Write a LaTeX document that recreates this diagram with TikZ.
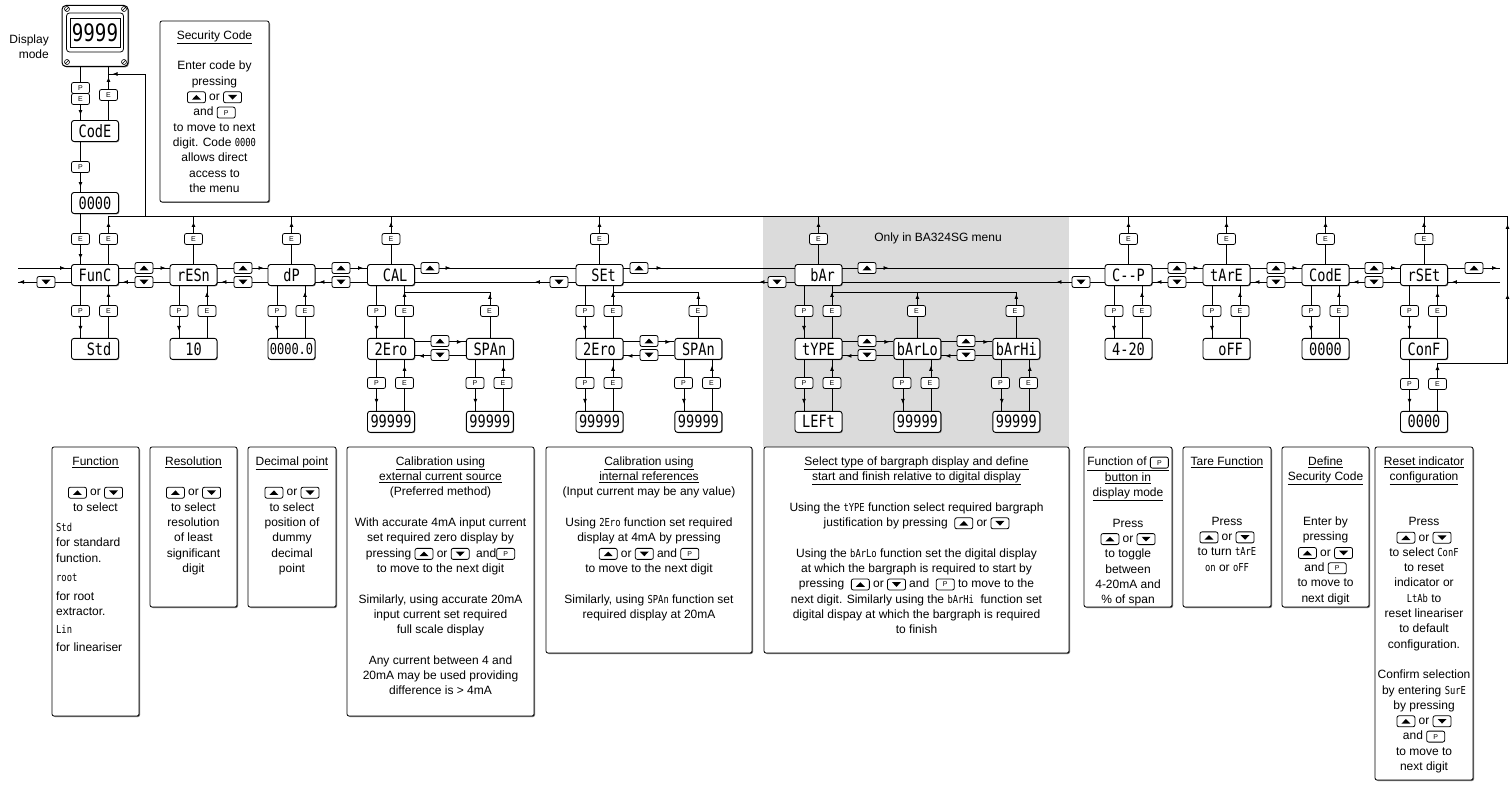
\documentclass[tikz,border=0pt]{standalone}
\usepackage{fontspec}
\setmainfont{Liberation Sans}
\newfontfamily\lcdfont[FakeStretch=0.8]{DejaVu Sans Mono}
\usepackage{tikz}
\usetikzlibrary{arrows.meta, positioning, decorations.markings, shadows}

\tikzset{
    key/.style={draw, rounded corners=2pt, line width=0.8pt, fill=white,
        minimum width=18pt, minimum height=11pt, inner sep=0pt,
        font=\fontsize{7}{7}\selectfont},
    upkey/.style={key, path picture={\fill[black, sharp corners] ([xshift=-4.5pt,yshift=-2.3pt]path picture bounding box.center)
        -- ++(9pt,0pt) -- ++(-4.5pt,4.6pt) -- cycle;}},
    downkey/.style={key, path picture={\fill[black, sharp corners] ([xshift=-4.5pt,yshift=2.3pt]path picture bounding box.center)
        -- ++(9pt,0pt) -- ++(-4.5pt,-4.6pt) -- cycle;}},
}
\newcommand{\kup}{\raisebox{-2.6pt}{\tikz\node[upkey] (ku) {};}}
\newcommand{\kdn}{\raisebox{-2.6pt}{\tikz\node[downkey] (kd) {};}}
\newcommand{\kp}{\raisebox{-2.6pt}{\tikz\node[key] (kp) {P};}}
\newcommand{\seg}[1]{{\lcdfont\fontsize{11}{11}\selectfont #1}}

\begin{document}
\begin{tikzpicture}[
    x=1pt, y=-1pt,
    lcd/.style={draw, rounded corners=2.5pt, line width=0.9pt, fill=white, minimum width=47pt,
        minimum height=21pt, inner sep=0pt, font=\lcdfont\fontsize{17}{17}\selectfont,
        drop shadow={shadow xshift=0.8pt, shadow yshift=-0.8pt, fill=black!55, opacity=1}},
    info/.style={draw, rounded corners=2pt, line width=0.8pt, fill=white,
        drop shadow={shadow xshift=1pt, shadow yshift=-1pt, fill=black!55, opacity=1}},
    notetext/.style={align=center, inner sep=0pt, font=\fontsize{12}{15.3}\selectfont},
    flow/.style={line width=0.8pt},
    flowtip/.style={postaction=decorate, decoration={markings,
        mark=at position #1 with {\arrow{Latex[length=5pt, width=4pt]}}}},
    flowtip/.default=-5pt,
]
\useasboundingbox (0,0) rectangle (1512,799);

% bargraph group
\fill[black!14] (763,217) rectangle (1069,447);
\node[notetext] (bartitle) at (938,238) {Only in BA324SG menu};

% display mode and security code
\node[draw, rounded corners=4pt, line width=1pt, fill=white, minimum width=66pt, minimum height=61pt,
    drop shadow={shadow xshift=1pt, shadow yshift=-1pt, fill=black!55, opacity=1}] (disp) at (95,36) {};
\node[draw, rounded corners=3pt, line width=0.8pt, minimum width=57pt, minimum height=39pt] (bezel) at (95,32.5) {};
\node[draw, line width=0.8pt, minimum width=50pt, minimum height=29pt, inner sep=0pt,
    font=\lcdfont\fontsize{24}{24}\selectfont] (window) at (95,32.5) {9999};
\draw[line width=0.6pt] (67,9) circle (2.5pt) (65.4,10.6) -- (68.6,7.4);
\draw[line width=0.6pt] (124,9) circle (2.5pt) (122.4,10.6) -- (125.6,7.4);
\draw[line width=0.6pt] (67,62) circle (2.5pt) (65.4,63.6) -- (68.6,60.4);
\draw[line width=0.6pt] (124,62) circle (2.5pt) (122.4,63.6) -- (125.6,60.4);
\node[notetext, align=right, anchor=east] (dmode) at (49,47) {Display\\mode};

\node[lcd] (pincode) at (95,131) {CodE};
\node[lcd] (pinval) at (95,203) {0000};
\node[info, minimum width=109pt, minimum height=181pt] (secbox) at (214.5,111.5) {};
\node[notetext, anchor=north] (sectext) at (214.5,30.5) {\underline{Security Code}\\[15.3pt]
    Enter code by\\ pressing\\ \kup{} or \kdn\\ and \kp\\ to move to next\\
    digit. Code \seg{0000}\\ allows direct\\ access to\\ the menu};

% main menu
\node[lcd] (func) at (95,275) {FunC};
\node[lcd] (resn) at (193.5,275) {rESn};
\node[lcd] (dp) at (291.5,275) {dP};
\node[lcd] (cal) at (391,275) {\phantom{0}CAL};
\node[lcd] (set) at (599.5,275) {\phantom{0}SEt};
\node[lcd] (bar) at (818.5,275) {\phantom{0}bAr};
\node[lcd] (cp) at (1128.5,275) {C{-}{-}P};
\node[lcd] (tare) at (1226.5,275) {tArE};
\node[lcd] (code) at (1325.5,275) {CodE};
\node[lcd] (rset) at (1424,275) {rSEt};

% sub menus
\node[lcd, below=52pt of func] (std) {\phantom{0}Std};
\node[lcd, below=52pt of resn] (res10) {10};
\node[lcd, below=52pt of dp, font=\lcdfont\fontsize{15}{15}\selectfont] (dpval) {0000.0};
\node[lcd, below=52pt of cal] (calzero) {2Ero};
\node[lcd, right=51pt of calzero] (calspan) {SPAn};
\node[lcd, below=52pt of set] (setzero) {2Ero};
\node[lcd, right=51pt of setzero] (setspan) {SPAn};
\node[lcd, below=52pt of bar] (typesel) {tYPE};
\node[lcd, right=51pt of typesel] (barlo) {bArLo};
\node[lcd, right=51pt of barlo] (barhi) {bArHi};
\node[lcd, below=52pt of cp] (cpval) {4-20};
\node[lcd, below=52pt of tare] (tareval) {\phantom{0}oFF};
\node[lcd, below=52pt of code] (codeval) {0000};
\node[lcd, below=52pt of rset] (conf) {ConF};

\node[lcd, below=51pt of calzero] (calzval) {99999};
\node[lcd, below=51pt of calspan] (calsval) {99999};
\node[lcd, below=51pt of setzero] (setzval) {99999};
\node[lcd, below=51pt of setspan] (setsval) {99999};
\node[lcd, below=51pt of typesel] (leftval) {LEFt};
\node[lcd, below=51pt of barlo] (lowval) {99999};
\node[lcd, below=51pt of barhi] (hival) {99999};
\node[lcd, below=51pt of conf] (confval) {0000};

% explanations
\node[info, minimum width=87pt, minimum height=269pt] (ifunc) at (95.5,581.5) {};
\node[info, minimum width=87pt, minimum height=160pt] (ires) at (193.5,527) {};
\node[info, minimum width=88pt, minimum height=160pt] (idp) at (292,527) {};
\node[info, minimum width=187pt, minimum height=269pt] (ical) at (440.5,581.5) {};
\node[info, minimum width=206pt, minimum height=206pt] (iset) at (649,550) {};
\node[info, minimum width=305pt, minimum height=206pt] (ibar) at (916.5,550) {};
\node[info, minimum width=88pt, minimum height=160pt] (icp) at (1128,527) {};
\node[info, minimum width=88pt, minimum height=160pt] (itare) at (1227,527) {};
\node[info, minimum width=87pt, minimum height=160pt] (icode) at (1325.5,527) {};
\node[info, minimum width=98pt, minimum height=333pt] (irset) at (1424,613.5) {};

\node[notetext, anchor=north] (tfunc) at (95.5,456.5) {\underline{Function}\\[15.3pt]
    \kup{} or \kdn\\ to select};
\node[notetext, align=left, anchor=north west] (tfuncb) at (56,523) {\seg{Std}\\ for standard\\
    function.\\[4.5pt] \seg{root}\\[3pt] for root\\ extractor.\\[3pt] \seg{Lin}\\[2.5pt] for lineariser};
\node[notetext, anchor=north] (tres) at (193.5,456.5) {\underline{Resolution}\\[15.3pt]
    \kup{} or \kdn\\ to select\\ resolution\\ of least\\ significant\\ digit};
\node[notetext, anchor=north] (tdp) at (292,456.5) {\underline{Decimal point}\\[15.3pt]
    \kup{} or \kdn\\ to select\\ position of\\ dummy\\ decimal\\ point};
\node[notetext, anchor=north] (tcal) at (440.5,456.5) {\underline{Calibration using}\\
    \underline{external current source}\\ (Preferred method)\\[15.3pt]
    With accurate 4mA input current\\ set required zero display by\\
    pressing \kup{} or \kdn{} \ and\kp\\ to move to the next digit\\[15.3pt]
    Similarly, using accurate 20mA\\ input current set required\\ full scale display\\[15.3pt]
    Any current between 4 and\\ 20mA may be used providing\\ difference is > 4mA};
\node[notetext, anchor=north] (tset) at (649,456.5) {\underline{Calibration using}\\
    \underline{internal references}\\ (Input current may be any value)\\[15.3pt]
    Using \seg{2Ero} function set required\\ display at 4mA by pressing\\
    \kup{} or \kdn{} and \kp\\ to move to the next digit\\[15.3pt]
    Similarly, using \seg{SPAn} function set\\ required display at 20mA};
\node[notetext, anchor=north] (tbar) at (916.5,456.5) {\underline{Select type of bargraph display and define}\\
    \underline{start and finish relative to digital display}\\[15.3pt]
    Using the \seg{tYPE} function select required bargraph\\
    justification by pressing \ \kup{} or \kdn\\[15.3pt]
    Using the \seg{bArLo} function set the digital display\\
    at which the bargraph is required to start by\\
    pressing \ \kup{} or \kdn{} and \ \kp{} to move to the\\
    next digit. Similarly using the \seg{bArHi} \ function set\\
    digital dispay at which the bargraph is required\\ to finish};
\node[notetext, anchor=north] (tcp) at (1128,456.5) {\underline{Function of \kp}\\
    \underline{button in}\\ \underline{display mode}\\[15.3pt]
    Press\\ \kup{} or \kdn\\ to toggle\\ between\\ 4-20mA and\\ \% of span};
\node[notetext, anchor=north] (ttare) at (1227,456.5) {\underline{Tare Function}\\[44.7pt]
    Press\\ \kup{} or \kdn\\ to turn \seg{tArE}\\ \seg{on} or \seg{oFF}};
\node[notetext, anchor=north] (tcode) at (1325.5,456.5) {\underline{Define}\\
    \underline{Security Code}\\[29.7pt]
    Enter by\\ pressing\\ \kup{} or \kdn\\ and \kp\\ to move to\\ next digit};
\node[notetext, anchor=north] (trset) at (1424,456.5) {\underline{Reset indicator}\\
    \underline{configuration}\\[29.7pt]
    Press\\ \kup{} or \kdn\\ to select \seg{ConF}\\ to reset\\ indicator or\\
    \seg{LtAb} to\\ reset lineariser\\ to default\\ configuration.\\[15.3pt]
    Confirm selection\\ by entering \seg{SurE}\\ by pressing\\ \kup{} or \kdn\\
    and \kp\\ to move to\\ next digit};

% return bus to display mode
\coordinate (busL) at (108.5,216);
\coordinate (busR) at (1507.5,216);
\coordinate (retA) at (1507.5,363);
\coordinate (retC) at (145,216);
\coordinate (retD) at (145,74);
\draw[flow] (busL) -- (busR);
\draw[flow, postaction=decorate, decoration={markings,
    mark=at position 69pt with {\arrow{Latex[length=5pt, width=4pt]}},
    mark=at position 139pt with {\arrow{Latex[length=5pt, width=4pt]}}}] (retA) -- (busR);
\draw[flow] (retC) -- (retD);
\draw[flow, flowtip=-4pt] (retD) -- ([xshift=13.5pt]disp.south |- retD);
\draw[flow, flowtip=-2pt] ([xshift=13.5pt]confval.north) -- ([xshift=13.5pt]confval.north |- retA);
\draw[flow] ([xshift=13.5pt]confval.north |- retA) -- (retA);

\draw[flow, flowtip] ([xshift=-14.5pt]disp.south) -- ([xshift=-14.5pt]pincode.north);
\draw[flow, flowtip=-10pt] ([xshift=13.5pt]pincode.north) -- ([xshift=13.5pt]disp.south);
\draw[flow, flowtip] ([xshift=-14.5pt]pincode.south) -- ([xshift=-14.5pt]pinval.north);
\draw[flow, flowtip] ([xshift=-14.5pt]pinval.south) -- ([xshift=-14.5pt]func.north);
\draw[flow, flowtip=-6pt] ([xshift=13.5pt]func.north) -- (busL);
\draw[flow, flowtip=-6pt] (resn.north) -- (resn.north |- busL);
\draw[flow, flowtip=-6pt] (dp.north) -- (dp.north |- busL);
\draw[flow, flowtip=-6pt] (cal.north) -- (cal.north |- busL);
\draw[flow, flowtip=-6pt] (set.north) -- (set.north |- busL);
\draw[flow, flowtip=-6pt] (bar.north) -- (bar.north |- busL);
\draw[flow, flowtip=-6pt] (cp.north) -- (cp.north |- busL);
\draw[flow, flowtip=-6pt] (tare.north) -- (tare.north |- busL);
\draw[flow, flowtip=-6pt] (code.north) -- (code.north |- busL);
\draw[flow, flowtip=-6pt] (rset.north) -- (rset.north |- busL);

% scrolling through the main menu
\coordinate (inL) at (18,268);
\coordinate (outL) at (18,282);
\coordinate (outR) at (1500,268);
\coordinate (inR) at (1500,282);
\draw[flow, flowtip=-6pt] (inL) -- ([yshift=7pt]func.west);
\draw[flow, flowtip=-1pt] ([yshift=-7pt]func.west) -- (outL);
\draw[flow, flowtip=-4pt] ([yshift=7pt]func.east) -- ([yshift=7pt]resn.west);
\draw[flow, flowtip=-4pt] ([yshift=-7pt]resn.west) -- ([yshift=-7pt]func.east);
\draw[flow, flowtip=-4pt] ([yshift=7pt]resn.east) -- ([yshift=7pt]dp.west);
\draw[flow, flowtip=-4pt] ([yshift=-7pt]dp.west) -- ([yshift=-7pt]resn.east);
\draw[flow, flowtip=-4pt] ([yshift=7pt]dp.east) -- ([yshift=7pt]cal.west);
\draw[flow, flowtip=-4pt] ([yshift=-7pt]cal.west) -- ([yshift=-7pt]dp.east);
\draw[flow, flowtip=-125pt] ([yshift=7pt]cal.east) -- ([yshift=7pt]set.west);
\draw[flow, flowtip=-120pt] ([yshift=-7pt]set.west) -- ([yshift=-7pt]cal.east);
\draw[flow, flowtip=-133pt] ([yshift=7pt]set.east) -- ([yshift=7pt]bar.west);
\draw[flow, flowtip=-136pt] ([yshift=-7pt]bar.west) -- ([yshift=-7pt]set.east);
\draw[flow, flowtip=-216pt] ([yshift=7pt]bar.east) -- ([yshift=7pt]cp.west);
\draw[flow, flowtip=-214pt] ([yshift=-7pt]cp.west) -- ([yshift=-7pt]bar.east);
\draw[flow, flowtip=-4pt] ([yshift=7pt]cp.east) -- ([yshift=7pt]tare.west);
\draw[flow, flowtip=-4pt] ([yshift=-7pt]tare.west) -- ([yshift=-7pt]cp.east);
\draw[flow, flowtip=-4pt] ([yshift=7pt]tare.east) -- ([yshift=7pt]code.west);
\draw[flow, flowtip=-4pt] ([yshift=-7pt]code.west) -- ([yshift=-7pt]tare.east);
\draw[flow, flowtip=-4pt] ([yshift=7pt]code.east) -- ([yshift=7pt]rset.west);
\draw[flow, flowtip=-4pt] ([yshift=-7pt]rset.west) -- ([yshift=-7pt]code.east);
\draw[flow, flowtip=-3pt] ([yshift=7pt]rset.east) -- (outR);
\draw[flow, flowtip=-4pt] (inR) -- ([yshift=-7pt]rset.east);

% into and out of the sub menus
\draw[flow, flowtip=-7pt] ([xshift=-14.5pt]func.south) -- ([xshift=-14.5pt]std.north);
\draw[flow, flowtip=-6pt] ([xshift=13.5pt]std.north) -- ([xshift=13.5pt]func.south);
\draw[flow, flowtip=-7pt] ([xshift=-14.5pt]resn.south) -- ([xshift=-14.5pt]res10.north);
\draw[flow, flowtip=-6pt] ([xshift=13.5pt]res10.north) -- ([xshift=13.5pt]resn.south);
\draw[flow, flowtip=-7pt] ([xshift=-14.5pt]dp.south) -- ([xshift=-14.5pt]dpval.north);
\draw[flow, flowtip=-6pt] ([xshift=13.5pt]dpval.north) -- ([xshift=13.5pt]dp.south);
\draw[flow, flowtip=-7pt] ([xshift=-14.5pt]cal.south) -- ([xshift=-14.5pt]calzero.north);
\draw[flow, flowtip=-6pt] ([xshift=13.5pt]calzero.north) -- ([xshift=13.5pt]cal.south);
\draw[flow, flowtip=-7pt] ([xshift=-14.5pt]set.south) -- ([xshift=-14.5pt]setzero.north);
\draw[flow, flowtip=-6pt] ([xshift=13.5pt]setzero.north) -- ([xshift=13.5pt]set.south);
\draw[flow, flowtip=-7pt] ([xshift=-14.5pt]bar.south) -- ([xshift=-14.5pt]typesel.north);
\draw[flow, flowtip=-6pt] ([xshift=13.5pt]typesel.north) -- ([xshift=13.5pt]bar.south);
\draw[flow, flowtip=-7pt] ([xshift=-14.5pt]cp.south) -- ([xshift=-14.5pt]cpval.north);
\draw[flow, flowtip=-6pt] ([xshift=13.5pt]cpval.north) -- ([xshift=13.5pt]cp.south);
\draw[flow, flowtip=-7pt] ([xshift=-14.5pt]tare.south) -- ([xshift=-14.5pt]tareval.north);
\draw[flow, flowtip=-6pt] ([xshift=13.5pt]tareval.north) -- ([xshift=13.5pt]tare.south);
\draw[flow, flowtip=-7pt] ([xshift=-14.5pt]code.south) -- ([xshift=-14.5pt]codeval.north);
\draw[flow, flowtip=-6pt] ([xshift=13.5pt]codeval.north) -- ([xshift=13.5pt]code.south);
\draw[flow, flowtip=-7pt] ([xshift=-14.5pt]rset.south) -- ([xshift=-14.5pt]conf.north);
\draw[flow, flowtip=-6pt] ([xshift=13.5pt]conf.north) -- ([xshift=13.5pt]rset.south);

\coordinate (calj) at (404.5,292);
\coordinate (setj) at (613,292);
\coordinate (barj) at (832,292);
\draw[flow, flowtip=-2pt] (calspan.north) -- (calspan.north |- calj);
\draw[flow] (calspan.north |- calj) -- (calj);
\draw[flow, flowtip=-2pt] (setspan.north) -- (setspan.north |- setj);
\draw[flow] (setspan.north |- setj) -- (setj);
\draw[flow, flowtip=-2pt] (barlo.north) -- (barlo.north |- barj);
\draw[flow, flowtip=-2pt] (barhi.north) -- (barhi.north |- barj);
\draw[flow] (barhi.north |- barj) -- (barj);

\draw[flow, flowtip=-4pt] ([yshift=7pt]calzero.east) -- ([yshift=7pt]calspan.west);
\draw[flow, flowtip=-4pt] ([yshift=-7pt]calspan.west) -- ([yshift=-7pt]calzero.east);
\draw[flow, flowtip=-4pt] ([yshift=7pt]setzero.east) -- ([yshift=7pt]setspan.west);
\draw[flow, flowtip=-4pt] ([yshift=-7pt]setspan.west) -- ([yshift=-7pt]setzero.east);
\draw[flow, flowtip=-4pt] ([yshift=7pt]typesel.east) -- ([yshift=7pt]barlo.west);
\draw[flow, flowtip=-4pt] ([yshift=-7pt]barlo.west) -- ([yshift=-7pt]typesel.east);
\draw[flow, flowtip=-4pt] ([yshift=7pt]barlo.east) -- ([yshift=7pt]barhi.west);
\draw[flow, flowtip=-4pt] ([yshift=-7pt]barhi.west) -- ([yshift=-7pt]barlo.east);

\draw[flow, flowtip=-7pt] ([xshift=-14.5pt]calzero.south) -- ([xshift=-14.5pt]calzval.north);
\draw[flow, flowtip=-6pt] ([xshift=13.5pt]calzval.north) -- ([xshift=13.5pt]calzero.south);
\draw[flow, flowtip=-7pt] ([xshift=-14.5pt]calspan.south) -- ([xshift=-14.5pt]calsval.north);
\draw[flow, flowtip=-6pt] ([xshift=13.5pt]calsval.north) -- ([xshift=13.5pt]calspan.south);
\draw[flow, flowtip=-7pt] ([xshift=-14.5pt]setzero.south) -- ([xshift=-14.5pt]setzval.north);
\draw[flow, flowtip=-6pt] ([xshift=13.5pt]setzval.north) -- ([xshift=13.5pt]setzero.south);
\draw[flow, flowtip=-7pt] ([xshift=-14.5pt]setspan.south) -- ([xshift=-14.5pt]setsval.north);
\draw[flow, flowtip=-6pt] ([xshift=13.5pt]setsval.north) -- ([xshift=13.5pt]setspan.south);
\draw[flow, flowtip=-7pt] ([xshift=-14.5pt]typesel.south) -- ([xshift=-14.5pt]leftval.north);
\draw[flow, flowtip=-6pt] ([xshift=13.5pt]leftval.north) -- ([xshift=13.5pt]typesel.south);
\draw[flow, flowtip=-7pt] ([xshift=-14.5pt]barlo.south) -- ([xshift=-14.5pt]lowval.north);
\draw[flow, flowtip=-6pt] ([xshift=13.5pt]lowval.north) -- ([xshift=13.5pt]barlo.south);
\draw[flow, flowtip=-7pt] ([xshift=-14.5pt]barhi.south) -- ([xshift=-14.5pt]hival.north);
\draw[flow, flowtip=-6pt] ([xshift=13.5pt]hival.north) -- ([xshift=13.5pt]barhi.south);
\draw[flow, flowtip=-7pt] ([xshift=-14.5pt]conf.south) -- ([xshift=-14.5pt]confval.north);

% push buttons
\node[key] (dispP) at (80.5,88) {P};
\node[key] (dispE) at (80.5,99) {E};
\node[key] (pinE) at (108.5,95) {E};
\node[key] (pinP) at (80.5,167) {P};
\node[key] (funcEin) at (80.5,239) {E};
\node[key] (funcEout) at (108.5,239) {E};
\node[key] (resnE) at (193.5,239) {E};
\node[key] (dpE) at (291.5,239) {E};
\node[key] (calE) at (391,239) {E};
\node[key] (setE) at (599.5,239) {E};
\node[key] (barE) at (818.5,239) {E};
\node[key] (cpE) at (1128.5,239) {E};
\node[key] (tareE) at (1226.5,239) {E};
\node[key] (codeE) at (1325.5,239) {E};
\node[key] (rsetE) at (1424,239) {E};

\node[downkey] (down0) at (46,282) {};
\node[upkey] (up1) at (144,268) {};
\node[downkey] (down1) at (144,282) {};
\node[upkey] (up2) at (243,268) {};
\node[downkey] (down2) at (243,282) {};
\node[upkey] (up3) at (341,268) {};
\node[downkey] (down3) at (341,282) {};
\node[upkey] (up4) at (430,268) {};
\node[downkey] (down4) at (559,282) {};
\node[upkey] (up5) at (639,268) {};
\node[downkey] (down5) at (777,282) {};
\node[upkey] (up6) at (867,268) {};
\node[downkey] (down6) at (1081,282) {};
\node[upkey] (up7) at (1177,268) {};
\node[downkey] (down7) at (1177,282) {};
\node[upkey] (up8) at (1276,268) {};
\node[downkey] (down8) at (1276,282) {};
\node[upkey] (up9) at (1374,268) {};
\node[downkey] (down9) at (1374,282) {};
\node[upkey] (up10) at (1474,268) {};

\node[key] (funcP) at (80.5,311) {P};
\node[key] (funcE) at (108.5,311) {E};
\node[key] (resnP) at (179,311) {P};
\node[key] (resnE2) at (207,311) {E};
\node[key] (dpP) at (277,311) {P};
\node[key] (dpE2) at (305,311) {E};
\node[key] (calP) at (376.5,311) {P};
\node[key] (calE2) at (404.5,311) {E};
\node[key] (calspanE) at (489.5,311) {E};
\node[key] (setP) at (585,311) {P};
\node[key] (setE2) at (613,311) {E};
\node[key] (setspanE) at (698,311) {E};
\node[key] (barP) at (804,311) {P};
\node[key] (barE2) at (832,311) {E};
\node[key] (barloE) at (916.5,311) {E};
\node[key] (barhiE) at (1015,311) {E};
\node[key] (cpP) at (1114,311) {P};
\node[key] (cpE2) at (1142,311) {E};
\node[key] (tareP) at (1212,311) {P};
\node[key] (tareE2) at (1240,311) {E};
\node[key] (codeP) at (1311,311) {P};
\node[key] (codeE2) at (1339,311) {E};
\node[key] (rsetP) at (1409.5,311) {P};
\node[key] (rsetE2) at (1437.5,311) {E};

\node[upkey] (calup) at (440,341) {};
\node[downkey] (caldown) at (440,355) {};
\node[upkey] (setup) at (649,341) {};
\node[downkey] (setdown) at (649,355) {};
\node[upkey] (barup1) at (867,341) {};
\node[downkey] (bardown1) at (867,355) {};
\node[upkey] (barup2) at (966,341) {};
\node[downkey] (bardown2) at (966,355) {};

\node[key] (calzP) at (376.5,383) {P};
\node[key] (calzE) at (404.5,383) {E};
\node[key] (calsP) at (475,383) {P};
\node[key] (calsE) at (503,383) {E};
\node[key] (setzP) at (585,383) {P};
\node[key] (setzE) at (613,383) {E};
\node[key] (setsP) at (683.5,383) {P};
\node[key] (setsE) at (711.5,383) {E};
\node[key] (typeP) at (804,383) {P};
\node[key] (typeE) at (832,383) {E};
\node[key] (barloP) at (902,383) {P};
\node[key] (barloE2) at (930,383) {E};
\node[key] (barhiP) at (1000.5,383) {P};
\node[key] (barhiE2) at (1028.5,383) {E};
\node[key] (confP) at (1409.5,384) {P};
\node[key] (confE) at (1437.5,384) {E};
\end{tikzpicture}
\end{document}
